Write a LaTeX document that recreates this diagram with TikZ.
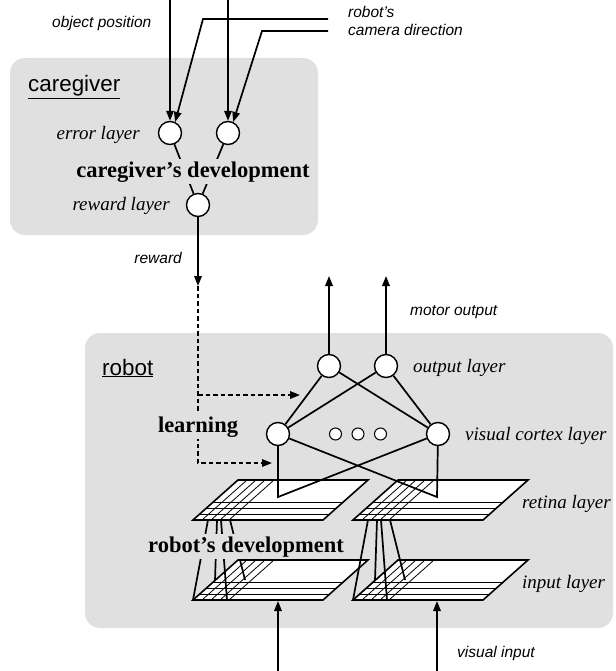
\documentclass[tikz,border=0pt]{standalone}
\usepackage{fontspec}
\setmainfont{Liberation Serif}
\setsansfont{Liberation Sans}
\usetikzlibrary{arrows.meta, positioning}

\definecolor{boxgray}{RGB}{224,224,224}

% one sheet of cells, corner = bottom-left
\newcommand{\gridlayer}[3]{%
  \coordinate (#1) at (#2,#3);
  \fill[white] (#1) -- ++(130,0) -- ++(45,-40) -- ++(-130,0) -- cycle;
  \foreach \h in {6,12,18}
    \draw[line width=0.8pt] ([shift={({45*\h/40},-\h)}]#1) -- ++(130,0);
  \foreach \d in {9,18,27,36}
    \draw[line width=0.8pt] ([shift={(\d,0)}]#1) -- ++(45,-40);
  \draw[line width=1.6pt] (#1) -- ++(130,0) -- ++(45,-40) -- ++(-130,0) -- cycle;
}

% receptive field lines from retina edge down to input sheet
\newcommand{\fieldlines}[2]{%
  \draw[wire] ([shift={(15,0)}]#1) -- (#2)
              ([shift={(24,0)}]#1) -- ([shift={(22,-20)}]#2)
              ([shift={(28,0)}]#1) -- ([shift={(34,0)}]#2)
              ([shift={(37,0)}]#1) -- ([shift={(52,-20)}]#2);
}

\begin{document}
\begin{tikzpicture}[x=1pt, y=-1pt, node distance=22.5pt, on grid,
    neuron/.style={circle, draw, fill=white, line width=1.4pt, minimum size=23pt, inner sep=0pt},
    minineuron/.style={circle, draw, fill=white, line width=1pt, minimum size=12pt, inner sep=0pt},
    wire/.style={line width=1.7pt},
    feed/.style={wire, -{Triangle[length=10pt, width=7.5pt]}},
    learn/.style={wire, dash pattern=on 4.5pt off 3pt, -{Triangle[length=10pt, width=7.5pt]}},
    layername/.style={font=\fontsize{19}{22}\selectfont\itshape, inner sep=0pt},
    signal/.style={font=\sffamily\itshape\fontsize{15.5}{18.5}\selectfont, inner sep=0pt, align=left},
    agent/.style={font=\sffamily\fontsize{22.4}{26}\selectfont, inner sep=0pt},
    process/.style={font=\bfseries\fontsize{22.5}{26}\selectfont, fill=boxgray, inner sep=2.5pt},
    panel/.style={fill=boxgray, rounded corners=15pt}]
  \useasboundingbox (0,0) rectangle (615,671);

  % panels
  \fill[panel] (10,58) rectangle (318,235);
  \fill[panel] (85,333) rectangle (613,628);
  \node[agent, anchor=base west] (cglbl) at (28,92) {\underline{caregiver}};
  \node[agent, anchor=base west] (rblbl) at (102,375) {\underline{robot}};

  % caregiver
  \node[neuron] (e1) at (170,133) {};
  \node[neuron] (e2) at (228,133) {};
  \node[neuron] (rw) at (198,205) {};
  \node[layername, anchor=base east] (errlbl) at (140,140) {error layer};
  \node[layername, anchor=base east] (rwlbl) at (170,210) {reward layer};
  \draw[wire] (e1) -- (rw) (e2) -- (rw);
  \node[process, anchor=base] (cgdev) at (193,177) {caregiver’s development};

  \coordinate (obj1) at (170,0);
  \coordinate (obj2) at (228,0);
  \coordinate (cam1) at (328,19);
  \coordinate (cam2) at (328,31);
  \draw[feed] (obj1) -- (e1.north);
  \draw[feed] (obj2) -- (e2.north);
  \draw[feed] (cam1) -- ++(-125,0) -- (e1.65);
  \draw[feed] (cam2) -- ++(-66,0) -- (e2.65);
  \node[signal, anchor=base west] (objlbl) at (52,28) {object position};
  \node[signal, anchor=north west] (camlbl) at (348,6) {robot’s\\camera direction};

  % reward and learning signal
  \coordinate (rwtip) at (198,286);
  \coordinate (lrn1) at (198,395);
  \coordinate (lrn2) at (198,463);
  \coordinate (lrnout) at (300,395);
  \coordinate (lrnvc) at (272,463);
  \draw[feed] (rw) -- (rwtip);
  \node[signal, anchor=base east] (rwsig) at (182,263) {reward};

  % robot sheets
  \gridlayer{inL}{193}{600}
  \gridlayer{inR}{353}{600}
  \gridlayer{retL}{193}{520}
  \gridlayer{retR}{353}{520}
  \fieldlines{retL}{inL}
  \fieldlines{retR}{inR}
  \node[process, anchor=base] (rbdev) at (246,552) {robot’s development};

  % robot network
  \node[neuron] (o1) at (329,366) {};
  \node[neuron] (o2) at (386,366) {};
  \node[neuron] (v1) at (278,434) {};
  \node[neuron] (v2) at (438,434) {};
  \node[minineuron] (m2) at (358,434) {};
  \node[minineuron] (m1) [left=of m2] {};
  \node[minineuron] (m3) [right=of m2] {};
  \coordinate (p1) at (278,497);
  \coordinate (p2) at (437,497);
  \draw[wire] (o1) -- (v1) (o1) -- (v2) (o2) -- (v1) (o2) -- (v2);
  \draw[wire] (v1) -- (p1) -- (v2) (v1) -- (p2) -- (v2);

  \draw[learn] (rwtip) -- (lrn2) -- (lrnvc);
  \draw[learn] (lrn1) -- (lrnout);
  \node[process, anchor=base] (lrnlbl) at (198,432) {learning};

  % motor output / visual input
  \coordinate (mo1) at (329,276);
  \coordinate (mo2) at (386,276);
  \draw[feed] (o1) -- (mo1);
  \draw[feed] (o2) -- (mo2);
  \coordinate (vi1) at (278,671);
  \coordinate (vi2) at (437,671);
  \coordinate (in1) at (278,601);
  \coordinate (in2) at (437,601);
  \draw[feed] (vi1) -- (in1);
  \draw[feed] (vi2) -- (in2);

  \node[signal, anchor=base west] (molbl) at (410,315) {motor output};
  \node[signal, anchor=base west] (vilbl) at (457,657) {visual input};
  \node[layername, anchor=base west] (outlbl) at (413,372) {output layer};
  \node[layername, anchor=base west] (vclbl) at (465,440) {visual cortex layer};
  \node[layername, anchor=base west] (retlbl) at (522,508) {retina layer};
  \node[layername, anchor=base west] (inlbl) at (522,588) {input layer};
\end{tikzpicture}
\end{document}
